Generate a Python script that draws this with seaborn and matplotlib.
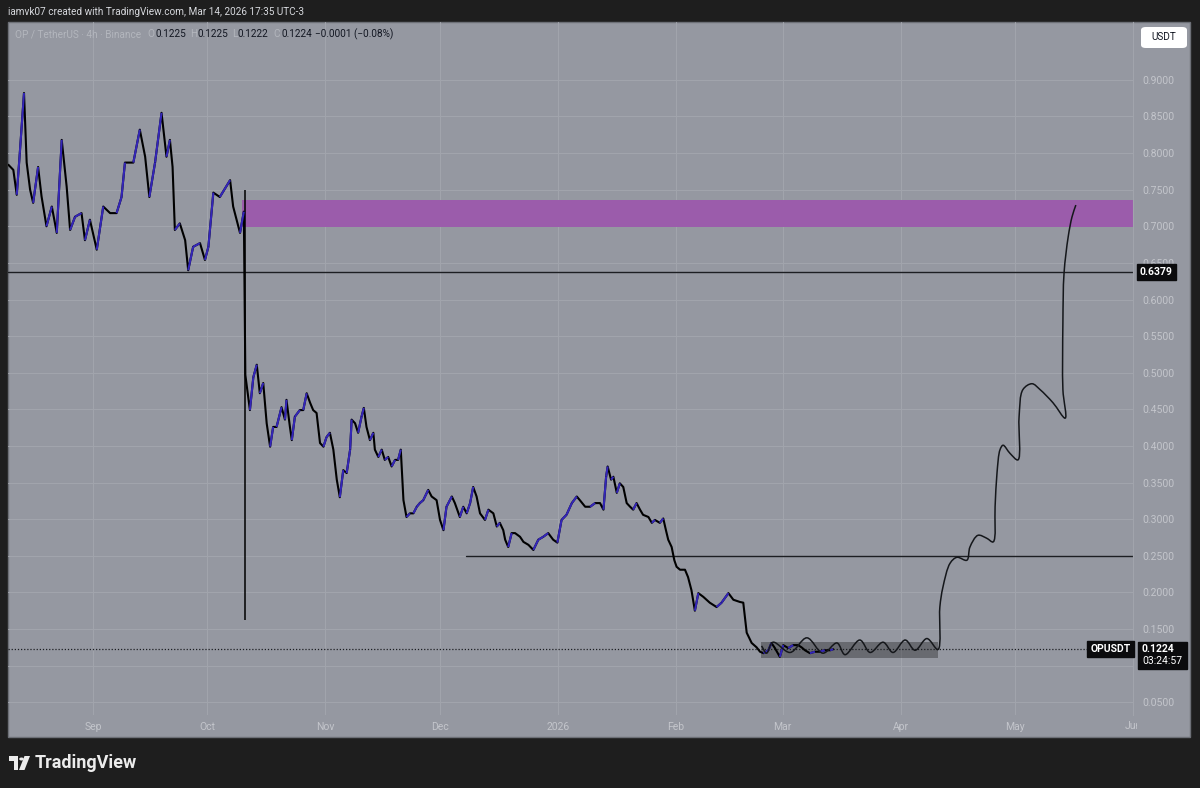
import numpy as np
import pandas as pd
import matplotlib
matplotlib.use("Agg")
import matplotlib.pyplot as plt
import seaborn as sns
import matplotlib.dates as mdates
from matplotlib.path import Path
from matplotlib.patches import PathPatch, Rectangle, FancyBboxPatch, Polygon, Circle
from matplotlib.collections import LineCollection
from matplotlib.transforms import Bbox, TransformedBbox, blended_transform_factory

# ---------------- data ----------------
BASE = "2025-09-01"   # day 0
price_day = [-22.2, -20.9, -20.0, -19.2, -18.1, -17.4, -16.5, -15.7, -14.4, -13.5, -12.2, -10.8, -9.5, -8.2,
             -6.9, -6.0, -4.7, -3.0, -2.1, -0.8, 1.0, 2.7, 4.5, 6.2, 7.5, 8.4, 10.6, 12.3, 13.7, 14.8, 16.3,
             18.0, 19.3, 20.2, 20.9, 21.5, 22.8, 24.2, 25.0, 26.3, 28.1, 29.4, 30.3, 31.6, 33.3, 36.0, 36.8,
             38.6, 39.6, 40.0, 41.2, 42.1, 43.0, 43.8, 44.7, 45.6, 46.5, 47.3, 48.2, 49.5, 50.4, 50.8, 51.7,
             52.2, 53.0, 54.3, 55.2, 56.1, 57.0, 57.8, 58.7, 59.6, 60.5, 61.3, 62.2, 63.1, 64.0, 64.8, 65.7,
             66.6, 67.5, 67.9, 68.8, 69.6, 70.5, 71.1, 71.8, 72.7, 73.6, 74.0, 74.9, 75.8, 76.6, 77.5, 78.4,
             79.3, 80.1, 80.8, 81.5, 82.3, 83.2, 84.1, 85.0, 85.8, 86.7, 88.0, 88.9, 90.2, 91.1, 92.0, 92.8,
             94.2, 95.0, 96.3, 97.2, 98.1, 99.0, 99.8, 100.7, 101.6, 102.9, 103.8, 105.1, 106.0, 106.8, 107.7,
             108.2, 109.0, 109.9, 110.8, 112.1, 113.0, 114.3, 115.6, 116.9, 118.2, 119.5, 120.8, 121.9, 123.0,
             124.3, 125.7, 127.0, 127.8, 129.2, 130.5, 131.8, 133.1, 134.0, 134.7, 135.1, 136.0, 136.6, 137.5,
             138.3, 139.2, 140.1, 141.0, 141.8, 142.7, 143.6, 144.4, 145.8, 146.7, 147.5, 148.8, 149.7, 150.4,
             151.0, 151.9, 152.6, 153.2, 154.1, 155.4, 156.2, 157.1, 158.0, 158.9, 160.2, 161.9, 163.7, 165.0,
             166.8, 168.1, 169.8, 170.7, 171.6, 172.9, 174.2, 175.1, 176.0, 177.3, 178.1, 179.0, 180.3, 181.2,
             182.5, 183.8, 185.1, 186.0, 186.9, 188.2, 189.5, 190.8, 192.1, 193.5, 194.3]
price_close = [0.784, 0.777, 0.743, 0.800, 0.882, 0.787, 0.750, 0.732, 0.781, 0.741, 0.700, 0.727, 0.691, 0.818,
               0.754, 0.695, 0.713, 0.718, 0.681, 0.709, 0.668, 0.727, 0.718, 0.718, 0.740, 0.787, 0.787, 0.832,
               0.795, 0.740, 0.787, 0.855, 0.795, 0.818, 0.781, 0.695, 0.704, 0.681, 0.640, 0.672, 0.677, 0.654,
               0.672, 0.746, 0.740, 0.763, 0.727, 0.691, 0.720, 0.497, 0.449, 0.494, 0.511, 0.472, 0.486, 0.431,
               0.399, 0.426, 0.426, 0.453, 0.436, 0.463, 0.426, 0.408, 0.440, 0.449, 0.449, 0.472, 0.459, 0.449,
               0.445, 0.404, 0.399, 0.412, 0.418, 0.395, 0.354, 0.330, 0.367, 0.363, 0.395, 0.436, 0.431, 0.418,
               0.440, 0.452, 0.426, 0.408, 0.418, 0.395, 0.385, 0.395, 0.381, 0.385, 0.372, 0.381, 0.381, 0.395,
               0.326, 0.303, 0.308, 0.308, 0.317, 0.322, 0.326, 0.340, 0.331, 0.326, 0.299, 0.285, 0.317, 0.331,
               0.322, 0.303, 0.317, 0.308, 0.322, 0.344, 0.331, 0.308, 0.299, 0.313, 0.308, 0.290, 0.295, 0.285,
               0.272, 0.262, 0.281, 0.281, 0.276, 0.269, 0.265, 0.258, 0.272, 0.276, 0.281, 0.272, 0.268, 0.299,
               0.306, 0.322, 0.331, 0.326, 0.317, 0.317, 0.322, 0.322, 0.313, 0.358, 0.372, 0.354, 0.358, 0.336,
               0.349, 0.344, 0.322, 0.317, 0.313, 0.322, 0.313, 0.306, 0.303, 0.295, 0.299, 0.295, 0.301, 0.285,
               0.272, 0.262, 0.244, 0.235, 0.231, 0.231, 0.221, 0.203, 0.175, 0.199, 0.194, 0.186, 0.180, 0.186,
               0.199, 0.190, 0.187, 0.186, 0.145, 0.131, 0.125, 0.119, 0.117, 0.121, 0.131, 0.124, 0.112, 0.128,
               0.124, 0.128, 0.128, 0.125, 0.121, 0.117, 0.119, 0.119, 0.121, 0.121, 0.1224]

# Oct 10 crash wick
wick_day = [40.0]
wick_high = [0.750]
wick_low = [0.162]

# drawn projection path
proj_day = [175.5, 176.8, 178.5, 183.0, 187.4, 191.6, 195.3, 197.4, 201.3, 204.0, 207.4, 210.0, 213.2, 215.8,
            218.9, 221.8, 222.3, 223.1, 225.0, 226.8, 229.4, 230.2, 232.3, 234.6, 236.3, 236.8, 237.3, 238.1,
            238.9, 240.7, 242.8, 243.1, 244.1, 246.5, 248.6, 252.0, 255.2, 254.6, 254.6, 254.9, 256.0, 257.0,
            258.0]
proj_price = [0.127, 0.117, 0.132, 0.118, 0.138, 0.117, 0.131, 0.115, 0.135, 0.118, 0.132, 0.118, 0.135, 0.121,
              0.137, 0.122, 0.180, 0.207, 0.240, 0.248, 0.244, 0.262, 0.278, 0.274, 0.269, 0.317, 0.363, 0.395,
              0.401, 0.390, 0.381, 0.440, 0.477, 0.485, 0.477, 0.459, 0.438, 0.477, 0.568, 0.636, 0.686, 0.713,
              0.729]

supply_zone = (0.6995, 0.7355)      # purple zone
supply_start = "2025-10-10"
range_box = ("2026-02-23 08:00", "2026-04-10 20:00", 0.1105, 0.1323)
level_major = 0.6379
level_support = 0.25
level_support_start = "2025-12-08"
last_price = 0.1224

month_ticks = ["2025-09-01", "2025-10-01", "2025-11-01", "2025-12-01", "2026-01-01", "2026-02-01",
               "2026-03-01", "2026-04-01", "2026-05-01"]
month_labels = ["Sep", "Oct", "Nov", "Dec", "2026", "Feb", "Mar", "Apr", "May"]
price_ticks = [0.05, 0.10, 0.15, 0.20, 0.25, 0.30, 0.35, 0.40, 0.45, 0.50, 0.55, 0.60, 0.65, 0.70,
               0.75, 0.80, 0.85, 0.90]
hidden_ticks = [0.10]   # covered by the live price label

# ---------------- style ----------------
sns.set_style("dark")
plt.rcParams["font.family"] = ["Roboto", "DejaVu Sans"]

W, H = 1200, 788
BG = "#1e1e1e"
PANEL = "#9598a1"
GRID = "#a1a4ac"
AXTXT = "#c3c5cb"
BLUE = "#3426b8"
LABEL_BG = "#0b0b0d"

fig = plt.figure(figsize=(12, 7.88), dpi=100, facecolor=BG)

def fx(px):
    return px / W

def fy(py):
    return 1 - py / H

fig.add_artist(Rectangle((fx(8), fy(737)), fx(1190) - fx(8), fy(22) - fy(737), transform=fig.transFigure,
                         fc=PANEL, ec="#6d7077", lw=1, zorder=-5))

ax = fig.add_axes([fx(8), fy(715), fx(1133) - fx(8), fy(22) - fy(715)])
ax.set_facecolor("none")

base_num = mdates.date2num(pd.Timestamp(BASE))
xs = base_num + np.asarray(price_day)
ys = np.asarray(price_close)

x_left = base_num - 22.3
x_right = mdates.date2num(pd.Timestamp("2026-06-01"))
ax.set_xlim(x_left, x_right)
ax.set_ylim(0.0326, 0.979)

# grid
ax.set_yticks(price_ticks)
ax.set_xticks([mdates.date2num(pd.Timestamp(d)) for d in month_ticks])
ax.set_xticklabels(month_labels)
ax.grid(True, color=GRID, lw=0.8)
ax.set_axisbelow(True)
for s in ["top", "left", "bottom"]:
    ax.spines[s].set_visible(False)
ax.spines["right"].set_color(GRID)
ax.spines["right"].set_linewidth(0.8)

ax.yaxis.tick_right()
ax.set_yticklabels(["" if v in hidden_ticks else f"{v:.4f}" for v in price_ticks])
ax.tick_params(axis="y", length=0, pad=7, labelcolor=AXTXT, labelsize=7.5)
ax.tick_params(axis="x", length=0, pad=5, labelcolor=AXTXT, labelsize=7.5)
ax.set_xlabel("")
ax.set_ylabel("")

# Jun label, clipped by the price scale
jun = ax.text(x_right, -0.016, "Jun", transform=blended_transform_factory(ax.transData, ax.transAxes),
              ha="center", va="center", color=AXTXT, fontsize=7.5, clip_on=True)
jun.set_clip_box(TransformedBbox(Bbox.from_extents(0, 0, fx(1137), 1), fig.transFigure))

# purple zone
z0 = mdates.date2num(pd.Timestamp(supply_start))
ax.add_patch(Rectangle((z0, supply_zone[0]), x_right - z0, supply_zone[1] - supply_zone[0],
                       fc="#9b5cab", ec="none", zorder=1))
# range box
b0 = mdates.date2num(pd.Timestamp(range_box[0]))
b1 = mdates.date2num(pd.Timestamp(range_box[1]))
ax.add_patch(Rectangle((b0, range_box[2]), b1 - b0, range_box[3] - range_box[2],
                       fc="black", alpha=0.3, ec="none", zorder=1))

# levels
ax.axhline(level_major, color="#1c1e22", lw=1.0, zorder=2)
s0 = mdates.date2num(pd.Timestamp(level_support_start))
ax.plot([s0, x_right], [level_support, level_support], color="#1c1e22", lw=1.0, zorder=2)
ax.axhline(last_price, color="#1c1e22", lw=0.9, ls=(0, (1, 1.5)), zorder=2)

# price line
sns.lineplot(x=xs, y=ys, ax=ax, color="black", lw=1.5, estimator=None, sort=False, zorder=3)
segs = np.stack([np.column_stack([xs[:-1], ys[:-1]]), np.column_stack([xs[1:], ys[1:]])], axis=1)
up = ys[1:] > ys[:-1]
ax.add_collection(LineCollection(segs[up], colors=BLUE, linewidths=1.5, zorder=3.5))
ax.vlines(base_num + np.asarray(wick_day), wick_low, wick_high, color="black", lw=1.1, zorder=3)

# projection path (Catmull-Rom through the drawn points, as cubic Beziers)
SX, SY = 3.81, 732.0
P = np.column_stack([np.asarray(proj_day) * SX, np.asarray(proj_price) * SY])
ext = np.vstack([2 * P[0] - P[1], P, 2 * P[-1] - P[-2]])
verts = [P[0]]
codes = [Path.MOVETO]
a = 0.5
for i in range(len(P) - 1):
    p0, p1, p2, p3 = ext[i], ext[i + 1], ext[i + 2], ext[i + 3]
    d1 = max(np.linalg.norm(p1 - p0) ** a, 1e-6)
    d2 = max(np.linalg.norm(p2 - p1) ** a, 1e-6)
    d3 = max(np.linalg.norm(p3 - p2) ** a, 1e-6)
    c1 = (d1 ** 2 * p2 - d2 ** 2 * p0 + (2 * d1 ** 2 + 3 * d1 * d2 + d2 ** 2) * p1) / (3 * d1 * (d1 + d2))
    c2 = (d3 ** 2 * p1 - d2 ** 2 * p3 + (2 * d3 ** 2 + 3 * d3 * d2 + d2 ** 2) * p2) / (3 * d3 * (d3 + d2))
    verts += [c1, c2, p2]
    codes += [Path.CURVE4] * 3
verts = np.array(verts)
verts[:, 0] = base_num + verts[:, 0] / SX
verts[:, 1] = verts[:, 1] / SY
ax.add_patch(PathPatch(Path(verts, codes), fill=False, ec="#15171b", lw=1.1, zorder=4))

# price labels
bt = blended_transform_factory(ax.transAxes, ax.transData)
box = dict(boxstyle="square,pad=0.3", fc=LABEL_BG, ec=LABEL_BG)
ax.text(1.006, level_major, "0.6379", transform=bt, ha="left", va="center", color="white", fontsize=7.5,
        fontweight="bold", clip_on=False, zorder=10, bbox=box)
ax.text(0.998, last_price, "OPUSDT", transform=bt, ha="right", va="center", color="white", fontsize=7.5,
        fontweight="bold", clip_on=False, zorder=10, bbox=box)
# live price + countdown label (background patch, two lines of text)
ax.add_patch(Rectangle((1.0045, last_price - 0.0268), 0.0435, 0.0368, transform=bt, fc=LABEL_BG,
                       ec=LABEL_BG, clip_on=False, zorder=10))
ax.text(1.008, last_price, "0.1224", transform=bt, ha="left", va="center", color="white",
        fontsize=7.5, fontweight="bold", clip_on=False, zorder=11)
ax.text(1.008, last_price - 0.0158, "03:24:57", transform=bt, ha="left", va="center", color="white",
        fontsize=7.5, clip_on=False, zorder=11)

# header texts
fig.text(fx(8), fy(12), "iamvk07 created with TradingView.com, Mar 14, 2026 17:35 UTC-3", color="#d6d8dd",
         fontsize=7.2, va="center", ha="left")
faint = "#b3b6bd"
dark = "#131722"
legend_parts = [(15, "OP / TetherUS · 4h · Binance", faint), (147, "O", faint), (156, "0.1225", dark),
                (190, "H", faint), (198, "0.1225", dark), (232, "L", faint), (238, "0.1222", dark),
                (273, "C", faint), (281, "0.1224", dark), (315, "−0.0001 (−0.08%)", dark)]
for px, txt, col in legend_parts:
    fig.text(fx(px), fy(34), txt, color=col, fontsize=7.2, va="center", ha="left")

# USDT button
fig.add_artist(FancyBboxPatch((fx(1141), fy(48)), fx(46), fy(27) - fy(48), transform=fig.transFigure,
                              boxstyle="round,pad=0,rounding_size=0.004", fc="white", ec="none", zorder=5))
fig.text(fx(1164), fy(37.5), "USDT", color=dark, fontsize=7.2, ha="center", va="center", zorder=6)

# TradingView logo
logo_col = "#ececec"
fig.add_artist(Polygon([(fx(9), fy(756)), (fx(18), fy(756)), (fx(18), fy(770)), (fx(13.5), fy(770)),
                        (fx(13.5), fy(760.5)), (fx(9), fy(760.5))], closed=True, transform=fig.transFigure,
                       fc=logo_col, ec="none"))
fig.add_artist(Circle((fx(21.5), fy(759)), 2.3 / W, transform=fig.transFigure, fc=logo_col, ec="none"))
fig.add_artist(Polygon([(fx(24.5), fy(756)), (fx(30), fy(756)), (fx(24.5), fy(770)), (fx(19), fy(770))],
                       closed=True, transform=fig.transFigure, fc=logo_col, ec="none"))
fig.text(fx(35), fy(763), "TradingView", color=logo_col, fontsize=13, fontweight="bold", ha="left",
         va="center")

fig.savefig("out.png", dpi=100, facecolor=BG)
